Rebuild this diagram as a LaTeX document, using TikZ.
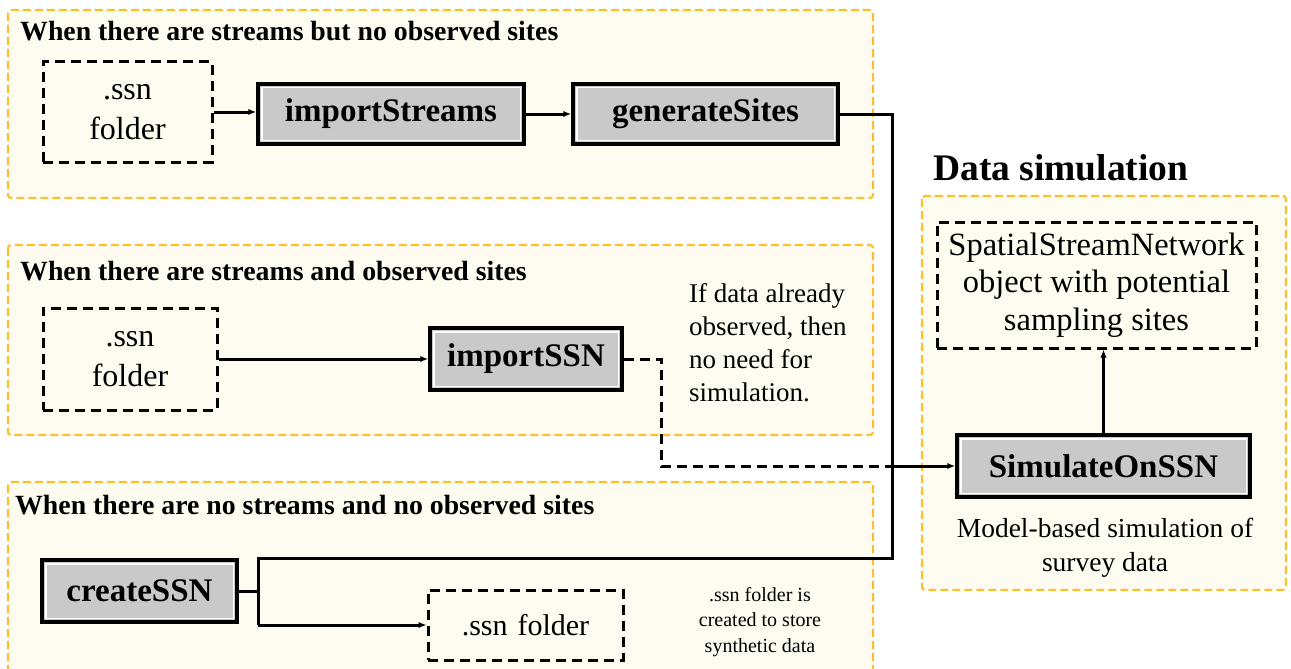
\documentclass[tikz,border=0pt]{standalone}
\usepackage{fontspec}
\setmainfont{Liberation Serif}
\usetikzlibrary{arrows.meta}
\definecolor{panelfill}{HTML}{FEFCF1}
\definecolor{panelline}{HTML}{FBC02D}
\definecolor{boxgray}{HTML}{C9C9C9}
\tikzset{
  panel/.style={draw=panelline, fill=panelfill, line width=2.2pt, dash pattern=on 8pt off 4pt, rounded corners=3pt},
  dbox/.style={draw=black, line width=3pt, dash pattern=on 10pt off 6pt, inner sep=0pt, align=center, font=\fontsize{32}{40}\selectfont},
  gbox/.style={draw=black, line width=3.5pt, fill=boxgray, inner sep=0pt, align=center,
     font=\bfseries\fontsize{33}{38}\selectfont,
     path picture={\draw[white,line width=1.4pt] ([shift={(3.8pt,3.8pt)}]path picture bounding box.south west) rectangle ([shift={(-3.8pt,-3.8pt)}]path picture bounding box.north east);}},
  conn/.style={line width=3pt, draw=black},
  arr/.style={conn, -{Latex[length=8pt,width=6.5pt]}},
  dconn/.style={conn, dash pattern=on 10pt off 6pt},
  ptitle/.style={font=\bfseries\fontsize{27.8}{32}\selectfont, anchor=base west, inner sep=0pt},
  note/.style={inner sep=0pt, align=left}
}
\begin{document}
\begin{tikzpicture}[x=1pt,y=-1pt]
\useasboundingbox (0,0) rectangle (1291,669);
\clip (0,0) rectangle (1291,669);
\fill[white] (0,0) rectangle (1291,669);

% panels
\path[panel] (8,10) rectangle (873,198);
\path[panel] (8,245) rectangle (873,435);
\path[panel] (8,482) rectangle (873,700);
\path[panel] (922,196) rectangle (1286,590);

% titles
\node[ptitle] (t1) at (20,41) {When there are streams but no observed sites};
\node[ptitle] (t2) at (20,280) {When there are streams and observed sites};
\node[ptitle] (t3) at (15,514) {When there are no streams and no observed sites};
\node[ptitle, font=\bfseries\fontsize{37.5}{42}\selectfont] (t4) at (933,180) {Data simulation};

% panel 1
\node[dbox, minimum width=169pt, minimum height=100pt] (ssn1) at (127.5,112) {.ssn\\folder};
\node[gbox, minimum width=266pt, minimum height=60pt] (imps) at (391,114) {importStreams};
\node[gbox, minimum width=265pt, minimum height=60pt] (gens) at (705.5,114) {generateSites};

% panel 2
\node[dbox, minimum width=174pt, minimum height=102pt] (ssn2) at (130,359) {.ssn\\folder};
\node[gbox, minimum width=192pt, minimum height=62pt] (impssn) at (526,359) {importSSN};
\node[note, anchor=north west, font=\fontsize{27}{33}\selectfont] (n1) at (689,283) {If data already\\observed, then\\no need for\\simulation.};

% panel 3
\node[gbox, minimum width=195pt, minimum height=62pt] (cssn) at (139.5,591) {createSSN};
\node[dbox, minimum width=195pt, minimum height=70pt, font=\fontsize{30}{34}\selectfont] (ssn3) at (525.5,625) {.ssn\,\,folder};
\node[note, align=center, font=\fontsize{20}{25.5}\selectfont] (n2) at (760,622) {.ssn folder is\\created to store\\synthetic data};

% data simulation
\node[dbox, minimum width=319pt, minimum height=126pt, font=\fontsize{32.5}{37.5}\selectfont] (obj) at (1096.5,285) {SpatialStreamNetwork\\object with potential\\sampling sites};
\node[gbox, minimum width=293pt, minimum height=62pt] (sim) at (1103.5,466) {SimulateOnSSN};
\node[note, align=center, font=\fontsize{27.5}{34}\selectfont] (n3) at (1105,548) {Model-based simulation of\\survey data};

% junctions
\coordinate (jT) at (892,558);
\coordinate (jL) at (258,558);
\coordinate (jB) at (258,625);
\coordinate (jM) at (892,466);
\coordinate (jD) at (661,466);

% connectors
\draw[arr] (ssn1.east) -- (ssn1.east -| imps.west);
\draw[arr] (imps.east) -- (gens.west);
\draw[arr] (ssn2.east) -- (impssn.west);
\draw[conn] (gens.east) -| (jT) -- (jL) -- (jB);
\draw[conn] (cssn.east) -- (cssn.east -| jL);
\draw[arr] (jB) -- (ssn3.west);
\draw[dconn] (impssn.east) -| (jD) -- (jM);
\draw[arr] (jM) -- (sim.west);
\draw[arr] (sim.north) -- (sim.north |- obj.south);
\end{tikzpicture}
\end{document}
